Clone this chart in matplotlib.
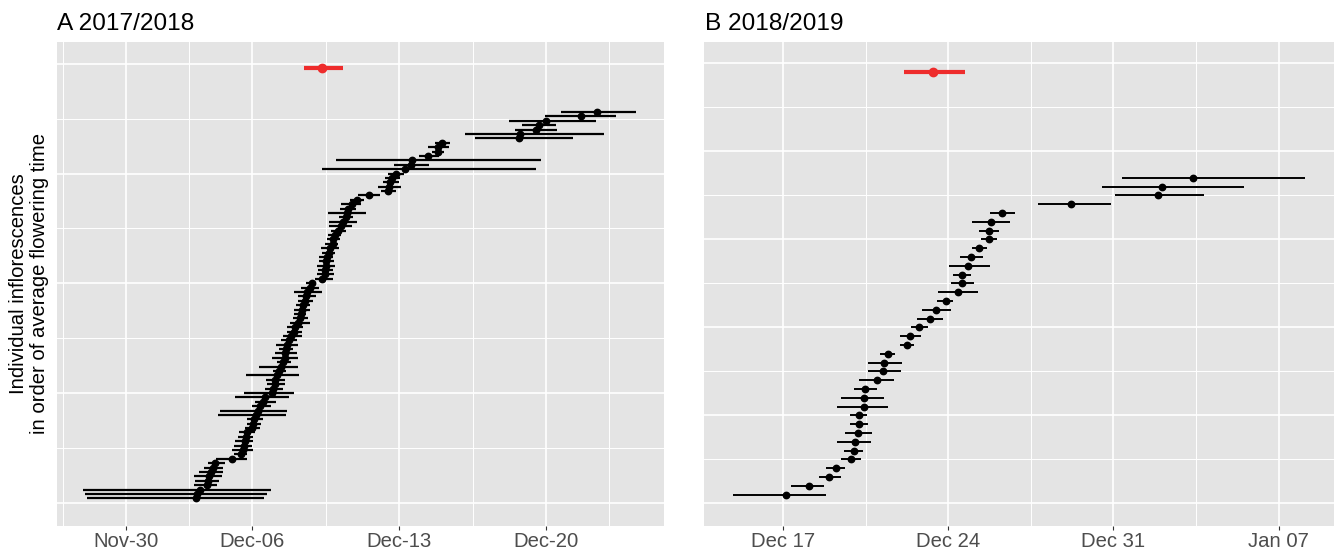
import datetime as dt
import matplotlib
matplotlib.use('Agg')
from matplotlib import pyplot as plt
import matplotlib.dates as mdates

plt.rcParams['font.family'] = ['Liberation Sans', 'DejaVu Sans']

# season A: days after 2017-12-06, inflorescences ranked from the bottom (1..89)
a_base = dt.datetime(2017, 12, 6)
a_mid = [-2.70, -2.64, -2.47, -2.17, -2.13, -2.06, -1.95, -1.89, -1.76, -0.97,
         -0.55, -0.44, -0.40, -0.36, -0.31, -0.25, 0.01, 0.05, 0.09, 0.16,
         0.28, 0.37, 0.50, 0.60, 0.92, 0.99, 1.07, 1.10, 1.16, 1.26,
         1.35, 1.44, 1.54, 1.56, 1.60, 1.63, 1.75, 1.86, 1.97, 2.05,
         2.20, 2.27, 2.31, 2.35, 2.42, 2.50, 2.57, 2.61, 2.73, 2.86,
         3.33, 3.48, 3.48, 3.52, 3.52, 3.55, 3.63, 3.70, 3.82, 3.86,
         3.93, 4.08, 4.21, 4.31, 4.46, 4.50, 4.55, 4.74, 5.00, 5.55,
         6.45, 6.49, 6.57, 6.64, 6.83, 7.28, 7.55, 7.62, 8.37, 8.83,
         8.85, 9.05, 12.71, 12.76, 13.50, 13.65, 13.97, 15.63, 16.40]
a_lo = [-7.88, -7.97, -8.05, -2.79, -2.74, -2.79, -2.55, -2.28, -2.13, -1.72,
        -0.85, -0.95, -0.85, -0.82, -0.68, -0.63, -0.33, -0.25, -0.25, -1.61,
        -1.53, -0.03, 0.13, -0.82, -0.40, 0.60, 0.69, 0.65, -0.29, 0.97,
        0.31, 1.16, 0.94, 1.07, 1.26, 1.11, 1.37, 1.44, 1.63, 1.63,
        1.78, 1.93, 2.01, 1.97, 2.08, 2.20, 2.20, 2.01, 2.31, 2.54,
        2.99, 3.10, 3.14, 3.10, 3.18, 3.20, 3.31, 3.29, 3.48, 3.55,
        3.61, 3.76, 3.67, 3.65, 4.14, 3.61, 4.17, 4.23, 4.63, 5.02,
        6.11, 6.00, 6.21, 6.30, 6.47, 3.33, 6.76, 3.97, 7.92, 8.54,
        8.36, 8.69, 10.58, 10.11, 12.52, 12.86, 12.22, 13.93, 14.68]
a_hi = [0.56, 0.69, 0.88, -1.66, -1.57, -1.42, -1.38, -1.38, -1.29, -0.25,
        -0.25, 0.03, -0.02, 0.03, 0.03, 0.13, 0.35, 0.41, 0.50, 1.60,
        1.63, 0.88, 1.11, 1.73, 2.01, 1.44, 1.54, 1.54, 2.24, 1.59,
        2.16, 1.82, 2.20, 2.12, 1.92, 2.16, 2.12, 2.39, 2.35, 2.42,
        2.73, 2.67, 2.57, 2.76, 2.76, 2.91, 3.05, 3.33, 3.20, 2.99,
        3.82, 3.89, 3.85, 3.93, 3.89, 3.85, 3.93, 4.14, 4.10, 4.18,
        4.23, 4.46, 4.74, 4.98, 4.80, 5.42, 4.93, 5.19, 5.34, 6.08,
        6.83, 7.07, 7.00, 7.02, 7.23, 13.53, 8.41, 13.74, 8.88, 9.15,
        9.37, 9.41, 15.25, 16.74, 14.51, 14.46, 16.38, 17.30, 18.26]
a_mean = [3.33, 2.44, 4.31]
a_mean_rank = 99

# season B: days after 2018-12-24, ranked from the bottom (1..37)
b_base = dt.datetime(2018, 12, 24)
b_mid = [-6.86, -5.91, -5.06, -4.75, -4.11, -4.01, -3.94, -3.80, -3.78, -3.78,
         -3.58, -3.56, -3.53, -3.02, -2.75, -2.73, -2.56, -1.75, -1.62, -1.23,
         -0.76, -0.50, -0.10, 0.43, 0.60, 0.60, 0.85, 0.97, 1.31, 1.71,
         1.75, 1.80, 2.30, 5.20, 8.88, 9.07, 10.37]
b_lo = [-9.11, -6.64, -5.48, -5.17, -4.53, -4.42, -4.70, -4.39, -4.15, -4.15,
        -4.70, -4.56, -3.98, -3.77, -3.40, -3.40, -2.87, -2.06, -2.04, -1.59,
        -1.31, -1.09, -0.47, -0.41, 0.10, 0.19, 0.03, 0.48, 1.00, 1.37,
        1.31, 1.00, 1.78, 3.80, 7.05, 6.53, 7.36]
b_hi = [-5.18, -5.27, -4.56, -4.36, -3.70, -3.59, -3.28, -3.21, -3.39, -3.42,
        -2.56, -2.70, -3.02, -2.30, -1.99, -1.97, -2.25, -1.43, -1.16, -0.85,
        -0.21, 0.10, 0.22, 1.28, 1.11, 0.97, 1.76, 1.47, 1.64, 2.06,
        2.16, 2.64, 2.82, 6.91, 10.82, 12.53, 15.12]
b_mean = [-0.66, -1.87, 0.73]
b_mean_rank = 49

a_ticks = [dt.datetime(2017, 11, 30), dt.datetime(2017, 12, 6),
           dt.datetime(2017, 12, 13), dt.datetime(2017, 12, 20)]
a_minor = [-9.0, -3.0, 3.5, 10.5, 17.0]
b_ticks = [dt.datetime(2018, 12, 17), dt.datetime(2018, 12, 24),
           dt.datetime(2018, 12, 31), dt.datetime(2019, 1, 7)]
b_minor = [-3.5, 3.5, 10.5]

BG = '#E4E4E4'
TXT = '#4D4D4D'


def draw_panel(ax, base, mid, lo, hi, mean, mean_rank, xlim, ylim,
               ticks, minor, fmt, ystep, elw):
    b = mdates.date2num(base)
    rank = list(range(1, len(mid) + 1))
    x = [b + v for v in mid]
    err = [[m - l for m, l in zip(mid, lo)], [h - m for m, h in zip(mid, hi)]]
    ax.set_facecolor(BG)
    for s in ax.spines.values():
        s.set_visible(False)

    # grid drawn by hand so major / minor widths can differ
    for v in minor:
        ax.axvline(b + v, color='white', lw=0.7, zorder=0)
    for t in ticks:
        ax.axvline(mdates.date2num(t), color='white', lw=1.2, zorder=0)
    y = 0.0
    k = 0
    while y <= ylim[1]:
        ax.axhline(y, color='white', lw=1.2 if k % 2 == 0 else 0.7, zorder=0)
        y += ystep / 2
        k += 1

    ax.errorbar(x, rank, xerr=err, fmt='o', color='black', ms=4.6,
                elinewidth=elw, capsize=0, zorder=3)
    ax.errorbar([b + mean[0]], [mean_rank],
                xerr=[[mean[0] - mean[1]], [mean[2] - mean[0]]],
                fmt='o', color='#EE2C2C', ms=6.0, elinewidth=3.0,
                capsize=0, zorder=4)

    ax.set_xlim(b + xlim[0], b + xlim[1])
    ax.set_ylim(*ylim)
    ax.set_xticks([mdates.date2num(t) for t in ticks])
    ax.xaxis.set_major_formatter(mdates.DateFormatter(fmt))
    ax.set_yticks([])
    ax.tick_params(axis='x', length=2.6, width=0.8, color='#333333',
                   labelsize=14.6, labelcolor=TXT, pad=2.0)


fig = plt.figure(figsize=(13.41, 5.54), dpi=100)
ax_a = fig.add_axes([0.04228, 0.05144, 0.45287, 0.87221])
ax_b = fig.add_axes([0.52520, 0.05144, 0.46936, 0.87221])

draw_panel(ax_a, a_base, a_mid, a_lo, a_hi, a_mean, a_mean_rank,
           (-9.31, 19.6), (-5.2, 104.9), a_ticks, a_minor, '%b-%d', 25, 1.6)
draw_panel(ax_b, b_base, b_mid, b_lo, b_hi, b_mean, b_mean_rank,
           (-10.33, 16.33), (-2.5, 52.4), b_ticks, b_minor, '%b %d', 10, 1.4)

fig.text(56.7 / 1341, 1 - 30.5 / 554, 'A 2017/2018', ha='left', va='baseline',
         fontsize=17.6, color='black')
fig.text(705.3 / 1341, 1 - 30.5 / 554, 'B 2018/2019', ha='left', va='baseline',
         fontsize=17.6, color='black')
fig.text(29 / 1341, 1 - 284 / 554,
         'Individual inflorescences\nin order of average flowering time',
         rotation=90, ha='center', va='center', multialignment='center',
         fontsize=14.6, linespacing=1.15, color='black')

fig.savefig('out.png', dpi=100)
